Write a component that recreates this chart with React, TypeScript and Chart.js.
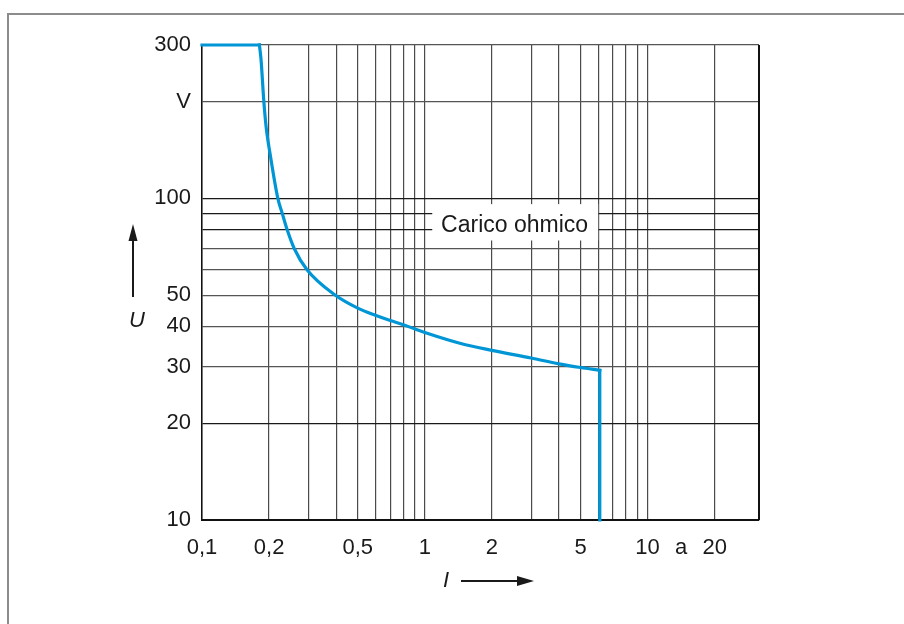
import React, { useEffect, useRef } from "react";
import { Chart, registerables } from "chart.js";

Chart.register(...registerables);

// Curve (current I, voltage U)
const currentI = [0.1, 0.181, 0.184, 0.1895, 0.194, 0.203, 0.219, 0.229, 0.241, 0.259, 0.296, 0.397, 0.5, 0.6, 0.7, 0.8, 0.9, 1, 1.45, 2, 3, 4, 5, 6.1, 6.1];
const voltageU = [300, 300, 271, 200, 167, 135, 100, 90, 80, 70, 60, 50, 45.6, 43.3, 41.7, 40.5, 39.3, 38.3, 35.4, 33.7, 31.9, 30.6, 29.8, 29.2, 10];
// index ranges of the flat top, the smooth curve and the vertical drop
const curveStart = 1;
const curveEnd = 23;

// Axis ticks
const xTickValues = [0.1, 0.2, 0.3, 0.4, 0.5, 0.6, 0.7, 0.8, 0.9, 1, 2, 3, 4, 5, 6, 7, 8, 9, 10, 14.142, 20];
const xTickText = ["0,1", "0,2", "", "", "0,5", "", "", "", "", "1", "2", "", "", "5", "", "", "", "", "10", "a", "20"];
const xNoGridValues = [14.142];
const yTickValues = [10, 20, 30, 40, 50, 60, 70, 80, 90, 100, 200, 300];
const yTickText = ["10", "20", "30", "40", "50", "", "", "", "", "100", "V", "300"];
const yDarkGridValues = [20, 80, 90, 100];

const xRange = [0.1, 31.62];
const yRange = [10, 300];

const xTitle = "I";
const yTitle = "U";

// Region label
const regionLabel = "Carico ohmico";
const regionBoxX = [1.08, 6.0];
const regionBoxY = [74, 96];
const regionLabelAt = [2.53, 83];

const FONT = "Arial, 'Liberation Sans', Helvetica, sans-serif";
const BLUE = "#0096d6";

const overlayPlugin = {
  id: "overlay",
  beforeDatasetsDraw(chart: any) {
    const { ctx, scales } = chart;
    const xs = scales.x;
    const ys = scales.y;
    const x0 = xs.getPixelForValue(regionBoxX[0]);
    const x1 = xs.getPixelForValue(regionBoxX[1]);
    const y0 = ys.getPixelForValue(regionBoxY[1]);
    const y1 = ys.getPixelForValue(regionBoxY[0]);
    ctx.save();
    ctx.fillStyle = "#ffffff";
    ctx.fillRect(x0, y0, x1 - x0, y1 - y0);
    ctx.fillStyle = "#1a1a1a";
    ctx.font = `23px ${FONT}`;
    ctx.textAlign = "center";
    ctx.textBaseline = "middle";
    ctx.fillText(regionLabel, xs.getPixelForValue(regionLabelAt[0]), ys.getPixelForValue(regionLabelAt[1]) + 1);
    ctx.restore();
  },
  afterDraw(chart: any) {
    const { ctx, chartArea: ca } = chart;
    ctx.save();
    // right border
    ctx.strokeStyle = "#111";
    ctx.lineWidth = 2;
    ctx.beginPath();
    ctx.moveTo(ca.right, ca.top);
    ctx.lineTo(ca.right, ca.bottom);
    ctx.stroke();

    ctx.fillStyle = "#1a1a1a";
    ctx.strokeStyle = "#1a1a1a";
    ctx.font = `italic 22px ${FONT}`;
    ctx.textAlign = "center";
    ctx.textBaseline = "middle";

    // Y title + up arrow
    ctx.fillText(yTitle, ca.left - 65, ca.top + 276);
    const ax = ca.left - 69;
    ctx.lineWidth = 2;
    ctx.beginPath();
    ctx.moveTo(ax, ca.top + 252);
    ctx.lineTo(ax, ca.top + 190);
    ctx.stroke();
    ctx.beginPath();
    ctx.moveTo(ax, ca.top + 179);
    ctx.lineTo(ax - 4.5, ca.top + 196);
    ctx.lineTo(ax + 4.5, ca.top + 196);
    ctx.closePath();
    ctx.fill();

    // X title + right arrow
    const iy = ca.bottom + 61;
    ctx.fillText(xTitle, ca.left + 244, iy);
    ctx.beginPath();
    ctx.moveTo(ca.left + 259, iy);
    ctx.lineTo(ca.left + 318, iy);
    ctx.stroke();
    ctx.beginPath();
    ctx.moveTo(ca.left + 332, iy);
    ctx.lineTo(ca.left + 315, iy - 5);
    ctx.lineTo(ca.left + 315, iy + 5);
    ctx.closePath();
    ctx.fill();
    ctx.restore();
  },
};

export default function App() {
  const canvasRef = useRef<HTMLCanvasElement | null>(null);

  useEffect(() => {
    const canvas = canvasRef.current;
    if (!canvas) return;
    const points = currentI.map((x, i) => ({ x, y: voltageU[i] }));
    const lineStyle = {
      borderColor: BLUE,
      borderWidth: 3.2,
      pointRadius: 0,
      fill: false,
      clip: false as any,
      borderCapStyle: "square",
      borderJoinStyle: "miter",
    };
    const chart = new Chart(canvas, {
      type: "line",
      data: {
        datasets: [
          { ...lineStyle, data: points.slice(0, curveStart + 1), tension: 0 },
          { ...lineStyle, data: points.slice(curveStart, curveEnd + 1), cubicInterpolationMode: "monotone" },
          { ...lineStyle, data: points.slice(curveEnd), tension: 0 },
        ],
      },
      options: {
        animation: false,
        responsive: false,
        devicePixelRatio: 1,
        layout: { padding: { top: 37, right: 137, bottom: 56, left: 0 } },
        plugins: { legend: { display: false }, tooltip: { enabled: false } },
        scales: {
          x: {
            type: "logarithmic",
            min: xRange[0],
            max: xRange[1],
            bounds: "data",
            afterBuildTicks: (s: any) => {
              s.ticks = xTickValues.map((v) => ({ value: v }));
            },
            afterFit: (s: any) => {
              s.height = 40;
            },
            ticks: {
              autoSkip: false,
              maxRotation: 0,
              minRotation: 0,
              padding: 15,
              color: "#1a1a1a",
              font: { family: FONT, size: 22 },
              callback: (_v: any, i: number) => xTickText[i],
            },
            grid: {
              drawTicks: false,
              lineWidth: 1.2,
              color: (c: any) =>
                c.tick && xNoGridValues.includes(c.tick.value) ? "rgba(0,0,0,0)" : "#4a4a4a",
            },
            border: { color: "#111", width: 2 },
          },
          y: {
            type: "logarithmic",
            min: yRange[0],
            max: yRange[1],
            bounds: "data",
            afterBuildTicks: (s: any) => {
              s.ticks = yTickValues.map((v) => ({ value: v }));
            },
            afterFit: (s: any) => {
              s.width = 194;
            },
            ticks: {
              autoSkip: false,
              padding: 11,
              color: "#1a1a1a",
              font: { family: FONT, size: 22 },
              callback: (_v: any, i: number) => yTickText[i],
            },
            grid: {
              drawTicks: false,
              lineWidth: 1.2,
              color: (c: any) =>
                c.tick && yDarkGridValues.includes(c.tick.value) ? "#1a1a1a" : "#555",
            },
            border: { color: "#111", width: 1.5 },
          },
        },
      },
      plugins: [overlayPlugin],
    } as any);
    return () => chart.destroy();
  }, []);

  return (
    <div style={{ position: "relative", width: 888, height: 608 }}>
      <div
        style={{
          position: "fixed",
          left: 7,
          top: 13,
          width: 2000,
          height: 2000,
          borderTop: "2px solid #8c8c8c",
          borderLeft: "2px solid #8c8c8c",
          pointerEvents: "none",
        }}
      />
      <canvas
        ref={canvasRef}
        width={888}
        height={608}
        style={{ position: "absolute", left: 0, top: 0, width: 888, height: 608, display: "block" }}
      />
    </div>
  );
}
